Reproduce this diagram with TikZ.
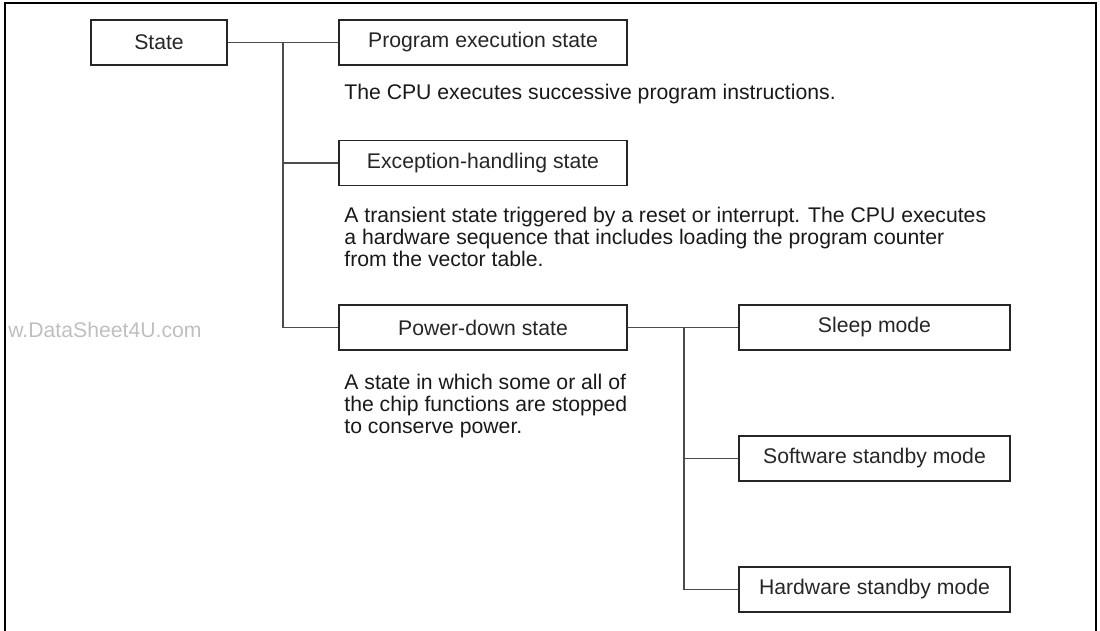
\documentclass[tikz,border=0pt]{standalone}
\usepackage{fontspec}
\setmainfont{Liberation Sans}
\usetikzlibrary{positioning}

\begin{document}
\begin{tikzpicture}[
  x=0.5pt, y=-0.5pt,
  font=\fontsize{10.6}{11}\selectfont,
  box/.style={draw=black!85, line width=0.6pt, minimum height=22.5pt,
              inner sep=0pt, text=black!85},
  root/.style={box, minimum width=68pt},
  branch/.style={box, minimum width=144pt},
  leaf/.style={box, minimum width=135.5pt},
  desc/.style={anchor=north west, align=left, inner sep=0pt, text=black!90},
  link/.style={draw=black!70, line width=0.6pt},
  frame/.style={draw=black, line width=1pt}
]
\useasboundingbox (0,0) rectangle (1100,631);
\draw[frame] (5,631) -- (5,3) -- (1096,3) -- (1096,631);
\node[anchor=base east, inner sep=0pt, text=black!25] (wm) at (202,337) {w.DataSheet4U.com};

\node[root] (st) at (159,42.5) {State};
\node[branch] (pe) at (483,42.5) {Program execution state};
\node[branch] (eh) at (483,163) {Exception-handling state};
\node[branch] (pd) at (483,327.5) {Power-down state};
\node[leaf] (sl) at (874.5,327.5) {Sleep mode};
\node[leaf] (ss) at (874.5,458.5) {Software standby mode};
\node[leaf] (hs) at (874.5,589.5) {Hardware standby mode};

\node[desc] (pe-d) at (344,84) {The CPU executes successive program instructions.};
\node[desc] (eh-d) at (344,207) {A transient state triggered by a reset or interrupt. The CPU executes\\
  a hardware sequence that includes loading the program counter\\
  from the vector table.};
\node[desc] (pd-d) at (344,374) {A state in which some or all of\\
  the chip functions are stopped\\
  to conserve power.};

\coordinate (j1) at (283,42.5);
\coordinate (j2) at (684,327.5);
\draw[link] (st) -- (pe);
\draw[link] (j1) |- (eh.west);
\draw[link] (j1) |- (pd.west);
\draw[link] (pd) -- (sl);
\draw[link] (j2) |- (ss.west);
\draw[link] (j2) |- (hs.west);
\end{tikzpicture}
\end{document}
